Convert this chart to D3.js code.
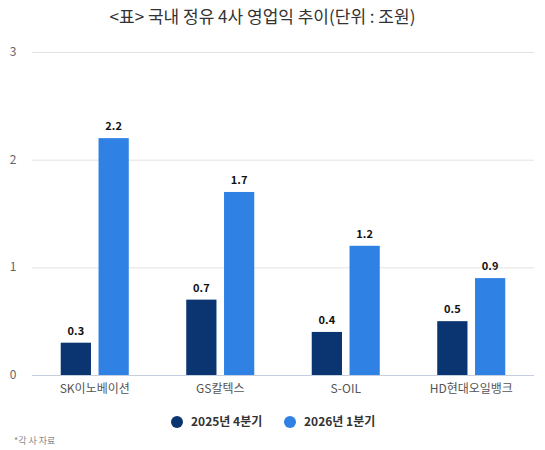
<!DOCTYPE html>
<html>
<head>
<meta charset="utf-8">
<script src="https://cdn.jsdelivr.net/npm/d3@7"></script>
<style>
  body { margin: 0; background: #fff; }
  svg { font-family: "Noto Sans CJK KR", "Noto Sans", sans-serif; }
</style>
</head>
<body>
<div id="chart"></div>
<script>
var companies = ["SK이노베이션", "GS칼텍스", "S-OIL", "HD현대오일뱅크"];
var seriesNames = ["2025년 4분기", "2026년 1분기"];
var q4_2025 = [0.3, 0.7, 0.4, 0.5];
var q1_2026 = [2.2, 1.7, 1.2, 0.9];
var yTicks = [0, 1, 2, 3];
var colors = ["#0a3570", "#2f82e4"];

var width = 545,
    height = 450,
    margin = { top: 52, right: 11, bottom: 75, left: 32 };

var data = companies.map(function (c, i) {
  return { name: c, values: [q4_2025[i], q1_2026[i]] };
});

var svg = d3.select("#chart").append("svg")
    .attr("width", width)
    .attr("height", height);

svg.append("text")
    .attr("x", width / 2 - 10)
    .attr("y", 23)
    .attr("text-anchor", "middle")
    .style("font-size", "17px")
    .style("fill", "#333")
    .text("<표> 국내 정유 4사 영업익 추이(단위 : 조원)");

var x0 = d3.scaleBand()
    .domain(companies)
    .range([margin.left, width - margin.right])
    .paddingInner(0.458)
    .paddingOuter(0.229);

var x1 = d3.scaleBand()
    .domain([0, 1])
    .range([0, x0.bandwidth()])
    .paddingInner(0.2);

var y = d3.scaleLinear()
    .domain([0, 3])
    .range([height - margin.bottom, margin.top]);

// grid
var grid = svg.append("g")
    .attr("transform", "translate(" + margin.left + ",0)")
    .call(d3.axisLeft(y).tickValues(yTicks).tickSize(-(width - margin.left - margin.right)).tickFormat(""));
grid.select(".domain").remove();
grid.selectAll(".tick line")
    .attr("stroke", function (d) { return d === 0 ? "#c5cfe0" : "#e3e3e3"; });

svg.selectAll(".ylab")
    .data(yTicks)
  .enter().append("text")
    .attr("class", "ylab")
    .attr("x", 13)
    .attr("y", function (d) { return y(d) + 4; })
    .attr("text-anchor", "middle")
    .style("font-size", "12px")
    .style("fill", "#666")
    .text(function (d) { return d; });

var groups = svg.selectAll(".grp")
    .data(data)
  .enter().append("g")
    .attr("class", "grp")
    .attr("transform", function (d) { return "translate(" + x0(d.name) + ",0)"; });

groups.selectAll("rect")
    .data(function (d) { return d.values; })
  .enter().append("rect")
    .attr("x", function (d, i) { return x1(i); })
    .attr("width", x1.bandwidth())
    .attr("y", function (d) { return y(d); })
    .attr("height", function (d) { return y(0) - y(d); })
    .attr("fill", function (d, i) { return colors[i]; });

groups.selectAll(".val")
    .data(function (d) { return d.values; })
  .enter().append("text")
    .attr("class", "val")
    .attr("x", function (d, i) { return x1(i) + x1.bandwidth() / 2; })
    .attr("y", function (d) { return y(d) - 8; })
    .attr("text-anchor", "middle")
    .style("font-size", "11px")
    .style("font-weight", "bold")
    .style("fill", "#111")
    .text(function (d) { return d3.format(".1f")(d); });

var xAxis = svg.append("g")
    .attr("transform", "translate(0," + y(0) + ")")
    .call(d3.axisBottom(x0).tickSize(0).tickPadding(9));
xAxis.select(".domain").remove();
xAxis.selectAll("text")
    .style("font-family", "\"Noto Sans CJK KR\", sans-serif")
    .style("font-size", "12px")
    .style("fill", "#555");

// legend
var legendX = [177, 290];
var legend = svg.selectAll(".leg")
    .data(seriesNames)
  .enter().append("g")
    .attr("class", "leg")
    .attr("transform", function (d, i) { return "translate(" + legendX[i] + ",422)"; });

legend.append("circle")
    .attr("r", 6)
    .attr("fill", function (d, i) { return colors[i]; });

legend.append("text")
    .attr("x", 14)
    .attr("y", 4)
    .style("font-size", "12px")
    .style("font-weight", "bold")
    .style("fill", "#333")
    .text(function (d) { return d; });

svg.append("text")
    .attr("x", 14)
    .attr("y", 444)
    .style("font-size", "9px")
    .style("fill", "#888")
    .text("*각 사 자료");
</script>
</body>
</html>
